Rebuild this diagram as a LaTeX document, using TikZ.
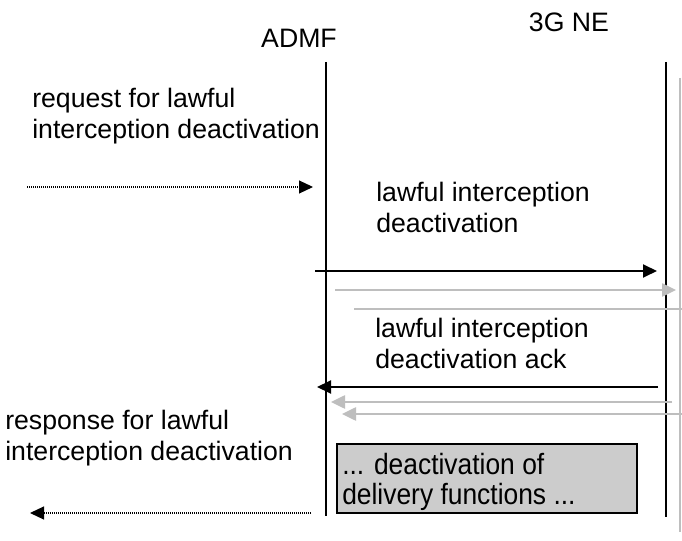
\documentclass[tikz,border=0pt]{standalone}
\usepackage{fontspec}
\setmainfont{Liberation Sans}
\newfontfamily\narrowsans[FakeStretch=0.9]{Liberation Sans}
\usepackage{xcolor}
\usetikzlibrary{arrows.meta}
\definecolor{lightline}{RGB}{190,190,190}
\definecolor{boxfill}{RGB}{204,204,204}

\begin{document}
\begin{tikzpicture}[x=0.75pt,y=-0.75pt]
\tikzstyle{every node}=[font=\fontsize{20}{23.25}\selectfont, inner sep=0pt]
\tikzstyle{txt}=[anchor=west, align=left]
\tikzstyle{lifeline}=[line width=1.4pt]
\tikzstyle{sigarrow}=[-{Triangle[length=10.5pt,width=9.75pt]}, line width=1.4pt]
\tikzstyle{echoarrow}=[-{Triangle[length=10.5pt,width=10pt]}, line width=1.1pt, color=lightline]
\tikzstyle{userarrow}=[-{Triangle[length=10.5pt,width=9.75pt]}, line width=0.8pt, dash pattern=on 0.75pt off 0.75pt]
\useasboundingbox (0,0) rectangle (682,541);
\fill [white] (0,0) rectangle (682,541);
\node (admf) at (299,38) {ADMF};
\node (ne) at (569,22) {3G NE};
\coordinate (admftop) at (326,62);
\coordinate (admfbot) at (326,516);
\coordinate (netop) at (666,62);
\coordinate (nebot) at (666,517);
\coordinate (netop2) at (680,78);
\coordinate (nebot2) at (680,532);
\draw [lifeline] (admftop) -- (admfbot);
\draw [lifeline] (netop) -- (nebot);
\draw [line width=1.1pt, lightline] (netop2) -- (nebot2);
\node [txt] (req) at (32,116) {request for lawful\\interception deactivation};
\node [txt] (deact) at (376,207) {lawful interception\\deactivation};
\node [txt] (ack) at (375,343) {lawful interception\\deactivation ack};
\node [txt] (resp) at (5,438) {response for lawful\\interception deactivation};
\coordinate (r1) at (27,187);
\coordinate (r2) at (313,187);
\coordinate (m1) at (315,271);
\coordinate (m2) at (657,271);
\coordinate (g1) at (335,290);
\coordinate (g2) at (676,290);
\coordinate (g3) at (354,309);
\coordinate (g4) at (682,309);
\coordinate (m3) at (658,387);
\coordinate (m4) at (317,387);
\coordinate (g5) at (672,402);
\coordinate (g6) at (331,402);
\coordinate (g7) at (682,414);
\coordinate (g8) at (342,414);
\coordinate (s1) at (311,513);
\coordinate (s2) at (30,513);
\draw [userarrow] (r1) -- (r2);
\draw [sigarrow] (m1) -- (m2);
\draw [echoarrow] (g1) -- (g2);
\draw [line width=1.1pt, lightline] (g3) -- (g4);
\draw [sigarrow] (m3) -- (m4);
\draw [echoarrow] (g5) -- (g6);
\draw [echoarrow] (g7) -- (g8);
\draw [userarrow] (s1) -- (s2);
\node [draw, fill=boxfill, line width=1.4pt, minimum width=225pt, minimum height=51.75pt, anchor=north west] (dfbox) at (336,443) {};
\node [txt, font=\narrowsans\fontsize{22}{22.5}\selectfont] (dftext) at (342,482) {... deactivation of\\delivery functions ...};
\end{tikzpicture}
\end{document}
